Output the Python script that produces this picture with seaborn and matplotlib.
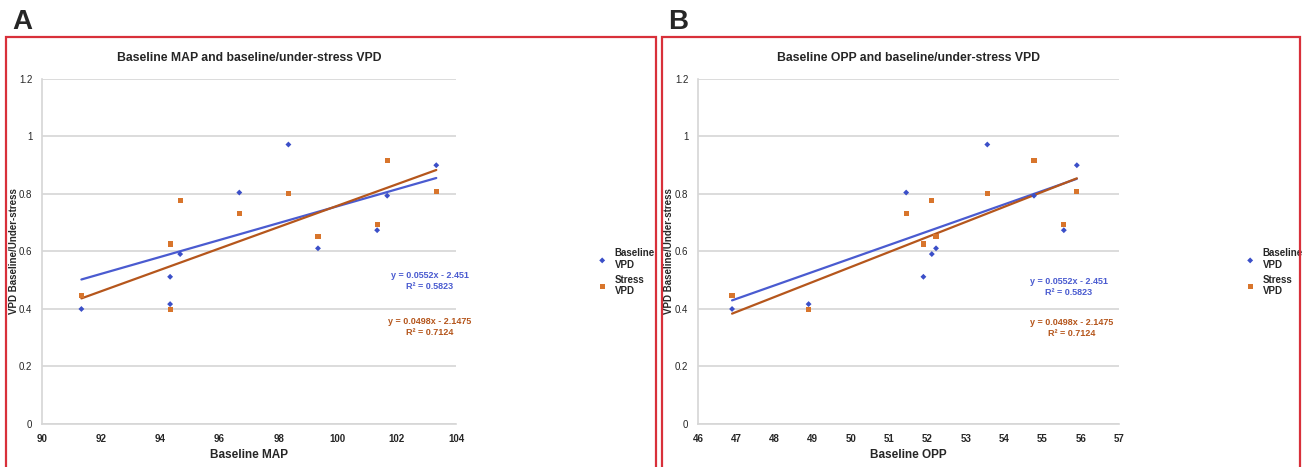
import numpy as np
import pandas as pd
import matplotlib
matplotlib.use("Agg")
import matplotlib.pyplot as plt
import seaborn as sns
from matplotlib.patches import Rectangle
from matplotlib.ticker import FuncFormatter

# ---- data (one entry per subject) ----
map_vals = [91.33, 94.33, 96.67, 94.33, 94.67, 99.33, 98.33, 101.67, 101.33, 103.33]
opp_vals = [46.89, 48.89, 51.44, 51.89, 52.11, 52.22, 53.56, 54.78, 55.56, 55.90]
baseline_vpd = [0.400, 0.417, 0.805, 0.512, 0.591, 0.611, 0.972, 0.794, 0.674, 0.900]
stress_vpd = [0.446, 0.398, 0.731, 0.626, 0.776, 0.652, 0.803, 0.917, 0.693, 0.808]

blue_eq = "y = 0.0552x - 2.451\nR² = 0.5823"
orange_eq = "y = 0.0498x - 2.1475\nR² = 0.7124"

df = pd.DataFrame({"MAP": map_vals, "OPP": opp_vals,
                   "Baseline": baseline_vpd, "Stress": stress_vpd})

sns.set_style("white")
plt.rcParams["font.family"] = ["Liberation Sans", "DejaVu Sans"]

BLUE_PT = "#3B4FC8"
BLUE_LN = "#4A5BD0"
ORANGE_PT = "#D8752C"
ORANGE_LN = "#B5561C"
GRID = "#D6D6D6"

fig = plt.figure(figsize=(13.02, 4.67), dpi=100)

panels = [
    # letter, xcol, title, xlabel, xlim, axes rect, eq positions, legend anchor, ylabel x
    ("A", "MAP", "Baseline MAP and baseline/under-stress VPD", "Baseline MAP",
     (90, 104), [0.0323, 0.0921, 0.3180, 0.7388], (0.937, 0.414), (0.937, 0.281), (1.405, 0.44), -0.055),
    ("B", "OPP", "Baseline OPP and baseline/under-stress VPD", "Baseline OPP",
     (46, 57), [0.5361, 0.0921, 0.3233, 0.7388], (0.881, 0.397), (0.888, 0.278), (1.363, 0.44), -0.057),
]

for letter, xcol, title, xlabel, xlim, rect, beq, oeq, leg, ylx in panels:
    ax = fig.add_axes(rect)
    ax.yaxis.grid(True, color=GRID, linewidth=1.2)
    ax.set_axisbelow(True)

    # trendline colours in the original figure are the other way round
    sns.regplot(data=df, x=xcol, y="Stress", ax=ax, scatter=False, ci=None,
                truncate=True, line_kws={"color": BLUE_LN, "linewidth": 1.6})
    sns.regplot(data=df, x=xcol, y="Baseline", ax=ax, scatter=False, ci=None,
                truncate=True, line_kws={"color": ORANGE_LN, "linewidth": 1.6})
    sns.scatterplot(data=df, x=xcol, y="Baseline", ax=ax, marker="D", s=9,
                    color=BLUE_PT, edgecolor="none", label="Baseline\nVPD", zorder=3)
    sns.scatterplot(data=df, x=xcol, y="Stress", ax=ax, marker="s", s=14,
                    color=ORANGE_PT, edgecolor="none", label="Stress\nVPD", zorder=3)

    ax.set_xlim(*xlim)
    ax.set_ylim(0, 1.2)
    ax.set_xticks(np.arange(xlim[0], xlim[1] + 1, 2 if letter == "A" else 1))
    ax.set_yticks(np.arange(0, 1.21, 0.2))
    ax.yaxis.set_major_formatter(FuncFormatter(lambda v, p: f"{v:g}"))
    ax.tick_params(axis="both", labelsize=7, length=3, color=GRID, pad=4)
    for lab in ax.get_xticklabels():
        lab.set_fontweight("bold")

    for side in ["top", "right"]:
        ax.spines[side].set_visible(False)
    for side in ["left", "bottom"]:
        ax.spines[side].set_color(GRID)
        ax.spines[side].set_linewidth(1.2)

    ax.set_title(title, fontsize=8.8, fontweight="bold", pad=13)
    ax.set_xlabel(xlabel, fontsize=8.5, fontweight="bold", labelpad=4)
    ax.set_ylabel("VPD Baseline/Under-stress", fontsize=7, fontweight="bold")
    ax.yaxis.set_label_coords(ylx, 0.5)

    ax.text(beq[0], beq[1], blue_eq, transform=ax.transAxes, ha="center", va="center",
            color=BLUE_LN, fontsize=6.5, fontweight="bold", linespacing=1.3)
    ax.text(oeq[0], oeq[1], orange_eq, transform=ax.transAxes, ha="center", va="center",
            color=ORANGE_LN, fontsize=6.5, fontweight="bold", linespacing=1.3)

    ax.legend(loc="center", bbox_to_anchor=leg, frameon=False,
              handletextpad=0.3, labelspacing=0.5,
              prop={"weight": "bold", "size": 7})

# red frames and panel letters
fig.patches.append(Rectangle((6 / 1302, -0.02), 650 / 1302, (467 - 37) / 467 + 0.02,
                             transform=fig.transFigure, fill=False,
                             edgecolor="#D8303A", linewidth=1.6))
fig.patches.append(Rectangle((662 / 1302, -0.02), 638 / 1302, (467 - 37) / 467 + 0.02,
                             transform=fig.transFigure, fill=False,
                             edgecolor="#D8303A", linewidth=1.6))
fig.text(12 / 1302, 1 - 22 / 467, "A", fontsize=20, fontweight="bold", va="center")
fig.text(668 / 1302, 1 - 22 / 467, "B", fontsize=20, fontweight="bold", va="center")

fig.savefig("out.png", dpi=100)
